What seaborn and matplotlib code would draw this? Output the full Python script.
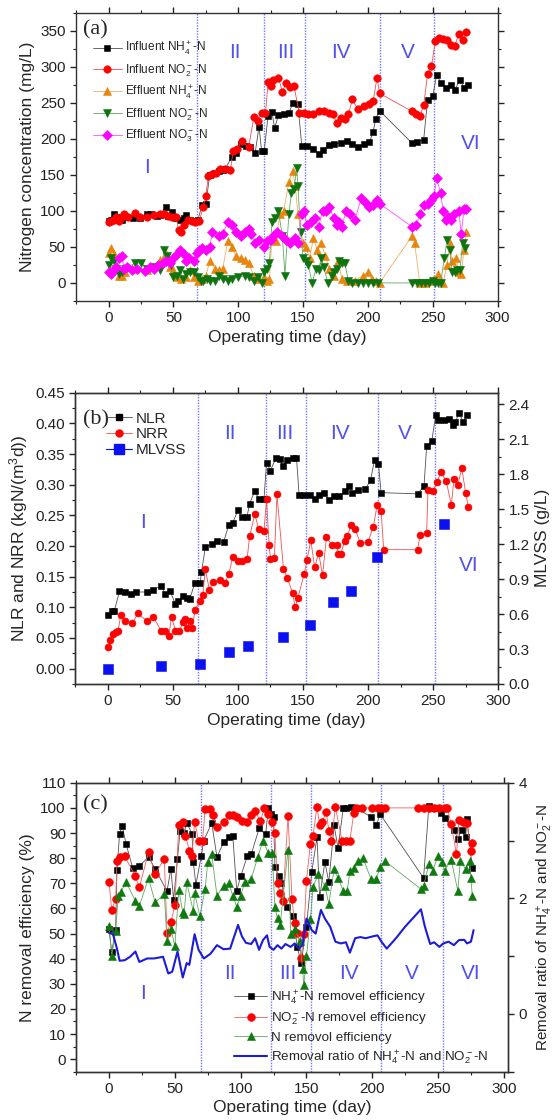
import matplotlib
matplotlib.use('Agg')
import matplotlib.pyplot as plt
import seaborn as sns
import pandas as pd
from matplotlib.ticker import MultipleLocator, FormatStrFormatter
from matplotlib.lines import Line2D

# ---------------- Panel (a) data ----------------
inf_nh4_day = [0, 2, 4, 6, 8, 10, 13, 19, 24, 30,
               33, 37, 40, 44, 46, 49, 52, 55, 58, 60,
               63, 66, 69, 72, 75, 78, 82, 85, 88, 90,
               95, 98, 102, 106, 109, 113, 116, 118, 120, 123,
               126, 128, 131, 135, 139, 142, 146, 149, 153, 158,
               162, 165, 170, 174, 179, 184, 188, 192, 197, 201,
               204, 206, 209, 234, 238, 243, 246, 250, 253, 256,
               260, 264, 267, 271, 274, 277]
inf_nh4 = [86, 88, 95, 89, 92, 88, 91, 90, 90, 96,
           95, 93, 94, 106, 93, 98, 90, 87, 90, 94,
           88, 86, 88, 108, 110, 150, 152, 155, 157, 158,
           175, 180, 193, 190, 188, 180, 217, 183, 183, 232,
           237, 215, 233, 234, 236, 249, 248, 190, 190, 186,
           179, 184, 192, 193, 194, 197, 193, 189, 193, 195,
           209, 228, 239, 194, 195, 199, 254, 259, 289, 278,
           271, 275, 268, 282, 271, 274]

inf_no2_day = [0, 2, 4, 6, 8, 10, 12, 15, 20, 24,
               30, 35, 40, 43, 46, 49, 52, 54, 56, 58,
               61, 64, 67, 70, 73, 75, 77, 80, 83, 86,
               90, 94, 96, 99, 103, 108, 112, 115, 118, 121,
               123, 125, 127, 131, 134, 137, 140, 143, 147, 151,
               154, 158, 162, 166, 170, 173, 176, 179, 182, 185,
               188, 192, 197, 201, 204, 207, 209, 234, 237, 240,
               243, 246, 249, 252, 255, 258, 261, 264, 267, 270,
               273, 276]
inf_no2 = [85, 86, 88, 92, 86, 91, 95, 92, 97, 92,
           92, 94, 96, 95, 93, 91, 92, 74, 70, 80,
           87, 86, 85, 86, 106, 121, 149, 151, 152, 158,
           158, 157, 183, 186, 197, 188, 230, 225, 236, 236,
           279, 273, 282, 285, 265, 278, 272, 273, 236, 236,
           235, 234, 238, 238, 236, 234, 222, 229, 227, 234,
           255, 241, 246, 248, 252, 285, 263, 238, 234, 231,
           247, 290, 301, 335, 340, 338, 337, 330, 329, 345,
           337, 348]

eff_nh4_day = [0, 2, 4, 6, 8, 10, 13, 20, 30, 40,
               44, 47, 50, 53, 56, 60, 63, 66, 69, 72,
               75, 78, 82, 85, 88, 92, 95, 98, 102, 105,
               108, 112, 116, 120, 122, 124, 126, 129, 132, 135,
               139, 142, 144, 146, 150, 152, 155, 158, 161, 164,
               167, 170, 174, 177, 180, 184, 190, 196, 200, 203,
               206, 209, 234, 236, 240, 244, 248, 251, 254, 258,
               261, 263, 265, 268, 270, 272, 274, 276]
eff_nh4 = [42, 48, 40, 20, 10, 10, 15, 20, 18, 32,
           40, 22, 18, 8, 5, 8, 18, 8, 3, 5,
           10, 30, 20, 18, 20, 58, 50, 38, 35, 32,
           28, 10, 5, 8, 3, 5, 62, 58, 95, 100,
           140, 155, 135, 95, 55, 50, 35, 62, 45, 55,
           38, 20, 10, 30, 5, 2, 3, 10, 15, 5,
           2, 0, 65, 55, 0, 0, 2, 5, 12, 0,
           25, 55, 30, 35, 15, 12, 45, 70]

eff_no2_day = [0, 2, 4, 6, 8, 10, 13, 20, 25, 30,
               35, 40, 43, 45, 48, 50, 53, 55, 57, 60,
               63, 66, 69, 71, 73, 76, 78, 82, 85, 88,
               92, 95, 100, 105, 108, 112, 115, 118, 120, 122,
               124, 126, 128, 131, 134, 136, 139, 141, 143, 145,
               146, 148, 150, 152, 154, 157, 160, 162, 164, 166,
               169, 172, 174, 176, 178, 180, 182, 185, 188, 192,
               196, 200, 204, 208, 234, 238, 241, 244, 247, 250,
               252, 254, 256, 259, 261, 263, 265, 267, 269, 271,
               273, 275]
eff_no2 = [25, 35, 30, 20, 12, 15, 20, 27, 28, 20,
           22, 18, 45, 38, 25, 8, 10, 18, 5, 12,
           15, 15, 8, 3, 2, 5, 2, 2, 10, 5,
           3, 5, 8, 10, 8, 3, 8, 0, 15, 20,
           28, 85, 90, 100, 65, 10, 95, 125, 130, 160,
           135, 70, 35, 30, 25, 0, 20, 18, 35, 22,
           0, 10, 15, 20, 30, 28, 28, 3, 0, 0,
           0, 0, 0, 0, 0, 0, 0, 0, 0, 2,
           0, 0, 0, 35, 60, 45, 15, 15, 18, 18,
           55, 48]

eff_no3_day = [0, 2, 4, 6, 8, 10, 12, 14, 18, 22,
               28, 32, 35, 38, 42, 44, 47, 50, 53, 55,
               58, 60, 62, 66, 68, 70, 72, 75, 78, 80,
               85, 88, 92, 95, 98, 102, 105, 108, 110, 113,
               116, 120, 122, 125, 127, 130, 134, 137, 140, 144,
               146, 149, 151, 153, 156, 159, 162, 165, 168, 170,
               174, 176, 178, 180, 183, 186, 190, 195, 198, 201,
               204, 207, 209, 234, 237, 240, 243, 246, 249, 251,
               253, 256, 258, 260, 262, 264, 266, 270, 272, 274,
               276]
eff_no3 = [15, 12, 18, 22, 35, 38, 20, 22, 18, 20,
           17, 22, 20, 25, 28, 30, 28, 35, 40, 45,
           40, 30, 35, 30, 42, 45, 48, 45, 50, 70,
           65, 68, 85, 80, 70, 65, 70, 75, 68, 55,
           60, 50, 58, 60, 65, 70, 65, 60, 55, 62,
           55, 95, 100, 80, 85, 90, 78, 100, 100, 105,
           90, 80, 85, 78, 100, 95, 88, 118, 112, 105,
           108, 115, 110, 78, 80, 95, 108, 110, 115, 120,
           145, 125, 100, 88, 92, 88, 95, 100, 68, 102,
           103]

# ---------------- Panel (b) data ----------------
nlr_day = [0, 3, 5, 9, 13, 18, 22, 30, 35, 41,
           44, 48, 52, 54, 58, 61, 63, 67, 71, 72,
           75, 80, 84, 89, 93, 96, 100, 103, 107, 109,
           113, 116, 120, 122, 125, 129, 132, 135, 138, 142,
           145, 147, 151, 155, 159, 162, 166, 170, 174, 178,
           182, 185, 188, 192, 198, 202, 205, 208, 210, 238,
           243, 245, 249, 252, 254, 258, 262, 265, 267, 270,
           273, 276]
nlr = [0.087, 0.094, 0.094, 0.126, 0.125, 0.122, 0.125, 0.125, 0.129, 0.135,
       0.122, 0.126, 0.105, 0.110, 0.118, 0.115, 0.114, 0.140, 0.140, 0.158,
       0.198, 0.203, 0.208, 0.206, 0.235, 0.238, 0.258, 0.247, 0.248, 0.269,
       0.290, 0.276, 0.276, 0.336, 0.323, 0.343, 0.342, 0.330, 0.340, 0.344,
       0.344, 0.283, 0.283, 0.283, 0.277, 0.283, 0.286, 0.275, 0.281, 0.281,
       0.289, 0.298, 0.287, 0.292, 0.293, 0.308, 0.341, 0.333, 0.287, 0.285,
       0.298, 0.363, 0.372, 0.414, 0.405, 0.406, 0.407, 0.398, 0.402, 0.417,
       0.402, 0.413]

nrr_day = [0, 2, 4, 6, 8, 10, 13, 19, 23, 30,
           35, 41, 44, 47, 49, 52, 55, 58, 59, 61,
           63, 65, 67, 71, 73, 75, 78, 81, 86, 90,
           93, 96, 100, 103, 107, 109, 113, 116, 120, 122,
           124, 125, 128, 130, 135, 138, 142, 144, 146, 151,
           153, 156, 159, 162, 165, 168, 172, 176, 177, 179,
           182, 184, 187, 190, 194, 200, 204, 207, 210, 212,
           238, 240, 245, 246, 250, 253, 256, 260, 264, 266,
           269, 272, 275, 277]
nrr = [0.035, 0.047, 0.056, 0.059, 0.062, 0.088, 0.078, 0.074, 0.090, 0.078,
       0.084, 0.062, 0.062, 0.054, 0.085, 0.062, 0.062, 0.076, 0.081, 0.066,
       0.077, 0.066, 0.096, 0.111, 0.120, 0.162, 0.129, 0.141, 0.144, 0.140,
       0.154, 0.182, 0.176, 0.176, 0.178, 0.216, 0.252, 0.227, 0.224, 0.276,
       0.201, 0.179, 0.180, 0.284, 0.163, 0.148, 0.123, 0.100, 0.115, 0.155,
       0.177, 0.209, 0.165, 0.189, 0.152, 0.214, 0.202, 0.202, 0.187, 0.187,
       0.208, 0.216, 0.234, 0.228, 0.205, 0.207, 0.231, 0.267, 0.257, 0.194,
       0.194, 0.218, 0.221, 0.292, 0.289, 0.305, 0.320, 0.306, 0.267, 0.310,
       0.300, 0.327, 0.286, 0.264]

mlvss_day = [0, 41, 71, 93, 108, 135, 155, 173, 187, 207, 258]
mlvss = [0.126, 0.155, 0.169, 0.272, 0.326, 0.406, 0.504, 0.707, 0.798, 1.093, 1.373]

# ---------------- Panel (c) data ----------------
eff_nh4_rm_day = [0, 2, 5, 6, 8, 10, 13, 18, 23, 30,
                  35, 44, 47, 49, 52, 54, 57, 59, 63, 64,
                  66, 70, 72, 78, 82, 87, 91, 94, 97, 100,
                  105, 108, 114, 119, 121, 123, 125, 126, 129, 131,
                  135, 140, 143, 146, 150, 154, 158, 160, 164, 167,
                  171, 174, 178, 180, 184, 188, 199, 203, 206, 239,
                  243, 247, 252, 255, 262, 265, 268, 271, 272, 276]
eff_nh4_rm = [51.7, 42.7, 51.5, 75.4, 89.8, 92.7, 85.5, 76, 77, 80.4,
              75.8, 66.8, 75.8, 63.4, 79.8, 91, 90, 94, 89.8, 78.4,
              69.5, 80.7, 87, 94, 80.4, 86.4, 88.4, 89, 67, 72.7,
              80.7, 81.5, 91.8, 89.5, 99.8, 97.5, 96.5, 76.6, 72.7, 70,
              60.4, 57, 44.5, 38.4, 52.7, 74.4, 88.4, 64.4, 78.4, 70.4,
              93, 84, 100, 100, 100.4, 100, 96.4, 93, 97.5, 72.1,
              100.7, 100, 98, 95.8, 91.4, 87.7, 91.4, 88.4, 95.5, 76]

eff_no2_rm_day = [0, 2, 5, 6, 8, 12, 20, 23, 30, 35,
                  42, 44, 47, 50, 53, 56, 58, 61, 63, 65,
                  68, 71, 73, 77, 79, 82, 87, 91, 94, 97,
                  101, 105, 108, 111, 115, 118, 121, 124, 126, 128,
                  130, 132, 136, 139, 141, 143, 146, 148, 150, 153,
                  155, 158, 160, 162, 165, 167, 169, 172, 177, 180,
                  183, 186, 188, 192, 200, 204, 207, 210, 235, 239,
                  243, 247, 251, 255, 257, 260, 264, 266, 269, 272,
                  275, 276]
eff_no2_rm = [70.4, 59.4, 63.8, 79, 80.4, 80.7, 72.7, 68.4, 82.4, 73.5,
              79.8, 50.4, 54.4, 61.4, 93, 94.4, 89, 83, 80.7, 94.4,
              87, 87, 99.4, 99.4, 97, 92.4, 94.4, 97, 97, 96.4,
              94.7, 94.5, 97, 98.7, 94.7, 100, 97.4, 94.4, 90, 70,
              66, 63, 96.7, 63.8, 54, 50.4, 40.4, 50, 71, 85.8,
              89, 100.4, 93, 94.4, 98.4, 91, 87, 100.4, 87, 87,
              87, 98, 100, 100, 100, 100, 100, 100, 100, 100,
              100, 100, 100, 100, 100, 93.5, 81.7, 95, 94.5, 94,
              83, 86]

eff_n_rm_day = [0, 2, 5, 7, 9, 13, 20, 23, 30, 35,
                42, 44, 47, 50, 53, 56, 57, 59, 64, 65,
                69, 73, 75, 78, 82, 87, 91, 94, 97, 100,
                103, 108, 113, 117, 121, 124, 126, 128, 130, 136,
                138, 141, 145, 147, 148, 150, 153, 155, 159, 164,
                167, 171, 174, 178, 181, 183, 186, 189, 193, 199,
                203, 206, 210, 237, 239, 243, 246, 250, 253, 255,
                260, 265, 267, 271, 274, 275, 276]
eff_n_rm = [53, 41, 51, 65, 66.7, 70.4, 63, 61, 72, 62.4,
            65.8, 47, 51.7, 45, 67.4, 58.4, 57.7, 70.4, 58.8, 66,
            57, 67.7, 78.4, 81.7, 65, 69, 70, 65, 60.7, 65,
            70.4, 71.7, 80.4, 87, 82, 82, 60.4, 56, 53.4, 83.4,
            50, 52, 47, 36, 29.5, 41, 55.7, 68.4, 73.7, 69,
            61.8, 75.5, 72, 67, 67, 75, 76, 79, 80, 71.7,
            71.7, 76.4, 78.7, 67.7, 69, 77.5, 75, 81, 78.4, 75,
            79.4, 67, 79, 75.5, 79, 72, 65]

ratio_day = [0, 3, 6, 8, 12, 16, 20, 23, 29, 34,
             39, 41, 45, 48, 52, 56, 59, 61, 65, 68,
             72, 77, 82, 87, 92, 98, 101, 104, 108, 111,
             114, 117, 120, 122, 125, 128, 131, 134, 138, 141,
             144, 147, 149, 150, 154, 157, 161, 164, 168, 172,
             176, 180, 183, 187, 191, 195, 200, 204, 207, 211,
             218, 225, 233, 237, 240, 244, 247, 251, 254, 258,
             262, 266, 270, 272, 275, 277]
ratio = [1.40, 1.38, 1.13, 0.92, 0.93, 0.99, 1.08, 0.90, 0.96, 0.96,
         0.98, 0.99, 0.70, 0.73, 1.08, 0.63, 0.88, 0.85, 1.38, 1.11,
         0.96, 1.04, 1.19, 1.12, 1.13, 1.54, 1.34, 1.23, 1.21, 1.31,
         1.11, 1.28, 1.36, 1.16, 1.11, 1.19, 1.13, 1.21, 1.16, 1.22,
         1.13, 1.19, 1.51, 1.65, 1.45, 1.39, 1.80, 1.65, 1.51, 1.25,
         1.22, 1.24, 1.06, 1.31, 1.33, 1.31, 1.34, 1.36, 1.25, 1.13,
         1.31, 1.51, 1.71, 1.81, 1.51, 1.21, 1.24, 1.16, 1.22, 1.25,
         1.19, 1.28, 1.28, 1.22, 1.25, 1.45]

# phase boundaries and phase labels
phase_bounds_a = [68.5, 119.5, 151.3, 209.3, 250.8]
phase_bounds_b = [69.6, 121.2, 152.0, 208.0, 251.8]
phase_bounds_c = [69.8, 122.8, 153.5, 206.3, 254.0]
phase_names = ['I', 'II', 'III', 'IV', 'V', 'VI']
phase_x_a = [30, 97, 137, 179, 231, 279]
phase_y_a = [160, 320, 320, 320, 320, 193]
phase_x_b = [27, 94, 136, 178, 228, 277]
phase_y_b = [0.239, 0.384, 0.384, 0.384, 0.384, 0.168]
phase_x_c = [26, 92, 136, 182, 230, 275]
phase_y_c = [26, 34, 34, 34, 34, 34]

# ---------------- styling ----------------
sns.set_theme(style='ticks')
plt.rcParams['font.family'] = ['Liberation Sans', 'DejaVu Sans']
plt.rcParams['mathtext.fontset'] = 'custom'
plt.rcParams['mathtext.rm'] = 'Liberation Sans'
plt.rcParams['mathtext.it'] = 'Liberation Sans:italic'
plt.rcParams['mathtext.bf'] = 'Liberation Sans:bold'
plt.rcParams['axes.edgecolor'] = '#333333'
plt.rcParams['axes.linewidth'] = 1.0

ROMAN_C = '#5050ee'
VLINE_C = '#7474ff'
TICK_FS = 11
LABEL_FS = 12.5


def draw_series(ax, x, y, line_c, mark_c, marker, ms, label, lw=0.6):
    df = pd.DataFrame({'x': x, 'y': y})
    sns.lineplot(data=df, x='x', y='y', ax=ax, color=line_c, linewidth=lw,
                 marker=marker, markersize=ms, markerfacecolor=mark_c,
                 markeredgecolor=mark_c, markeredgewidth=0.4,
                 sort=False, estimator=None, label=label, legend=False)


def style_axis(ax, xlim, ylim, ymaj, ymin):
    ax.set_xlim(*xlim)
    ax.set_ylim(*ylim)
    ax.xaxis.set_major_locator(MultipleLocator(50))
    ax.xaxis.set_minor_locator(MultipleLocator(25))
    ax.yaxis.set_major_locator(MultipleLocator(ymaj))
    ax.yaxis.set_minor_locator(MultipleLocator(ymin))
    ax.tick_params(axis='both', which='major', direction='out', length=4,
                   width=1, labelsize=TICK_FS, colors='#222222')
    ax.tick_params(axis='both', which='minor', direction='out', length=2,
                   width=0.8, colors='#222222')
    ax.set_xlabel('Operating time (day)', fontsize=LABEL_FS, labelpad=3)
    for s in ax.spines.values():
        s.set_visible(True)
        s.set_color('#333333')


def phases(ax, bounds, xs, ys):
    for b in bounds:
        ax.axvline(b, color=VLINE_C, linestyle=(0, (1, 1)), linewidth=1.0, zorder=1)
    for name, x, y in zip(phase_names, xs, ys):
        ax.text(x, y, name, color=ROMAN_C, fontsize=15, ha='center', va='center')


fig = plt.figure(figsize=(5.56, 11.2), dpi=100)

# ---------------- (a) ----------------
ax_a = fig.add_axes([0.137, 0.7313, 0.758, 0.2574])
phases(ax_a, phase_bounds_a, phase_x_a, phase_y_a)
draw_series(ax_a, inf_nh4_day, inf_nh4, '#505050', '#000000', 's', 4.8,
            r'Influent NH$_4^+$-N')
draw_series(ax_a, inf_no2_day, inf_no2, '#f05050', '#ff0000', 'o', 5.4,
            r'Influent NO$_2^-$-N')
draw_series(ax_a, eff_nh4_day, eff_nh4, '#f0b060', '#e8850c', '^', 5.8,
            r'Effluent NH$_4^+$-N')
draw_series(ax_a, eff_no2_day, eff_no2, '#60a860', '#0f730f', 'v', 5.8,
            r'Effluent NO$_2^-$-N')
draw_series(ax_a, eff_no3_day, eff_no3, '#ff50ff', '#ff00ff', 'D', 4.8,
            r'Effluent NO$_3^-$-N')
style_axis(ax_a, (-25, 300), (-25, 375), 50, 25)
ax_a.set_ylabel('Nitrogen concentration (mg/L)', fontsize=LABEL_FS, labelpad=4)
ax_a.tick_params(top=True, right=True, which='both')
ax_a.tick_params(labeltop=False, labelright=False)
ax_a.legend(loc='upper left', bbox_to_anchor=(0.04, 0.905), frameon=False,
            fontsize=8.6, handlelength=2.4, handletextpad=0.3,
            labelspacing=0.42, borderpad=0, borderaxespad=0)
ax_a.text(0.017, 0.94, '(a)', transform=ax_a.transAxes, fontsize=16,
          family='Liberation Serif', va='center', ha='left')

# ---------------- (b) ----------------
ax_b = fig.add_axes([0.1353, 0.3893, 0.7608, 0.2601])
phases(ax_b, phase_bounds_b, phase_x_b, phase_y_b)
draw_series(ax_b, nlr_day, nlr, '#505050', '#000000', 's', 4.2, 'NLR')
draw_series(ax_b, nrr_day, nrr, '#f05050', '#ff0000', 'o', 5.0, 'NRR')
style_axis(ax_b, (-25, 300), (-0.025, 0.45), 0.05, 0.025)
ax_b.yaxis.set_major_formatter(FormatStrFormatter('%.2f'))
ax_b.set_ylabel(r'NLR and NRR (kgN/(m$^3$d))', fontsize=LABEL_FS, labelpad=4)
ax_b.tick_params(top=True, which='both')
ax_b2 = ax_b.twinx()
dfm = pd.DataFrame({'x': mlvss_day, 'y': mlvss})
sns.scatterplot(data=dfm, x='x', y='y', ax=ax_b2, marker='s', s=52,
                color='#0a10f0', edgecolor='#0a10f0', linewidth=0.4, legend=False)
ax_b2.set_ylim(0, 2.5)
ax_b2.yaxis.set_major_locator(MultipleLocator(0.3))
ax_b2.yaxis.set_minor_locator(MultipleLocator(0.15))
ax_b2.yaxis.set_major_formatter(FormatStrFormatter('%.1f'))
ax_b2.tick_params(axis='y', which='major', direction='out', length=4, width=1,
                  labelsize=TICK_FS, colors='#222222')
ax_b2.tick_params(axis='y', which='minor', direction='out', length=2, width=0.8,
                  colors='#222222')
ax_b2.set_ylabel('MLVSS (g/L)', fontsize=LABEL_FS, labelpad=4)
ax_b2.set_xlabel('')
hb = [Line2D([], [], color='#505050', lw=0.6, marker='s', ms=4.2, mfc='#000000', mec='#000000'),
      Line2D([], [], color='#f05050', lw=0.6, marker='o', ms=5.0, mfc='#ff0000', mec='#ff0000'),
      Line2D([], [], color='#0a10f0', lw=0.8, marker='s', ms=6.5, mfc='#0a10f0', mec='#0a10f0')]
ax_b2.legend(hb, ['NLR', 'NRR', 'MLVSS'], loc='upper left',
             bbox_to_anchor=(0.073, 0.935), frameon=False, fontsize=11,
             handlelength=1.7, handletextpad=0.25, labelspacing=0.12,
             borderpad=0, borderaxespad=0)
ax_b.text(0.018, 0.906, '(b)', transform=ax_b.transAxes, fontsize=16,
          family='Liberation Serif', va='center', ha='left')

# ---------------- (c) ----------------
ax_c = fig.add_axes([0.137, 0.0431, 0.7763, 0.258])
phases(ax_c, phase_bounds_c, phase_x_c, phase_y_c)
draw_series(ax_c, eff_nh4_rm_day, eff_nh4_rm, '#505050', '#000000', 's', 4.8,
            r'NH$_4^+$-N removel efficiency')
draw_series(ax_c, eff_no2_rm_day, eff_no2_rm, '#f06060', '#ff0000', 'o', 5.6,
            r'NO$_2^-$-N removel efficiency')
draw_series(ax_c, eff_n_rm_day, eff_n_rm, '#60a860', '#0f7a0f', '^', 5.4,
            'N removol efficiency')
style_axis(ax_c, (-25, 303), (-5, 110), 10, 5)
ax_c.set_ylabel('N removal efficiency (%)', fontsize=LABEL_FS, labelpad=4)
ax_c.tick_params(top=True, which='both')
ax_c2 = ax_c.twinx()
dfr = pd.DataFrame({'x': ratio_day, 'y': ratio})
sns.lineplot(data=dfr, x='x', y='y', ax=ax_c2, color='#1c1cd8', linewidth=1.5,
             sort=False, estimator=None,
             label=r'Removal ratio of NH$_4^+$-N and NO$_2^-$-N', legend=False)
ax_c2.set_ylim(-1, 4)
ax_c2.yaxis.set_major_locator(MultipleLocator(2))
ax_c2.yaxis.set_minor_locator(MultipleLocator(1))
ax_c2.tick_params(axis='y', which='major', direction='out', length=4, width=1,
                  labelsize=TICK_FS, colors='#222222')
ax_c2.tick_params(axis='y', which='minor', direction='out', length=4, width=1,
                  colors='#222222')
ax_c2.set_ylabel(r'Removal ratio of NH$_4^+$-N and NO$_2^-$-N', fontsize=11, labelpad=6)
ax_c2.set_xlabel('')
h1, l1 = ax_c.get_legend_handles_labels()
h2, l2 = ax_c2.get_legend_handles_labels()
ax_c2.legend(h1 + h2, l1 + l2, loc='upper left', bbox_to_anchor=(0.366, 0.29),
             frameon=False, fontsize=9.6, handlelength=2.5, handletextpad=0.3,
             labelspacing=0.32, borderpad=0, borderaxespad=0)
ax_c.text(0.016, 0.923, '(c)', transform=ax_c.transAxes, fontsize=16,
          family='Liberation Serif', va='center', ha='left')

fig.savefig('out.png', dpi=100)
